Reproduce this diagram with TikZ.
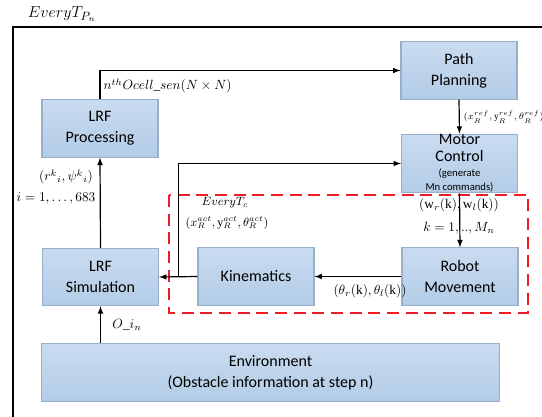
\documentclass[tikz,border=0pt]{standalone}
\usepackage{amsmath,amssymb}
\usepackage{fontspec}
\setmainfont{Liberation Serif}
\newfontfamily\boxfont{Carlito}
\usepackage{tikz}
\usetikzlibrary{arrows}
\usetikzlibrary{calc}
\definecolor{boxtop}{HTML}{C9DBF0}
\definecolor{boxbot}{HTML}{B3CCE6}
\definecolor{boxline}{HTML}{95AFCC}
\definecolor{loopred}{HTML}{EE1C24}

\begin{document}
\begin{tikzpicture}[x=0.75pt,y=-0.75pt,
  block/.style={draw=boxline,line width=0.8pt,top color=boxtop,bottom color=boxbot,
     minimum width=87pt,minimum height=43pt,align=center,
     font=\boxfont\fontsize{12}{15.5}\selectfont,inner sep=1pt},
  lbl/.style={font=\fontsize{10}{12}\selectfont,inner sep=1pt},
  link/.style={black,line width=0.9pt,-latex}]
\useasboundingbox (0,0) rectangle (542,417);
%%\draw[step=10,color=gray!50,dotted] (0,0) grid (542,417);
\draw [black,line width=2.2pt] (13,420) -- (13,27) -- (545,27);
\node [lbl,font=\fontsize{13}{15}\selectfont] (tp) at (62,14) {$EveryT_{P_n}$};

% blocks
\node [block] (pathplan) at (459,70.5) {Path\\Planning};
\node [block] (lrfproc) at (100,128.5) {LRF\\Processing};
\node [block,minimum height=44pt,inner sep=0pt,font=\boxfont\fontsize{12}{12}\selectfont] (motorctrl) at (459.5,163.5)
   {Motor\\[0.5pt]Control\\[-1pt]{\fontsize{8}{9}\selectfont (generate}\\[-1pt]{\fontsize{8}{9}\selectfont Mn commands)}};
\node [block] (lrfsim) at (100.5,277) {LRF\\Simulation};
\node [block] (kinematics) at (256,276.5) {Kinematics};
\node [block] (robotmov) at (460,276.5) {Robot\\Movement};
\node [block,minimum width=343pt,minimum height=44pt] (env) at (270.5,372.5)
   {Environment\\(Obstacle information at step n)};

% control loop
\draw [loopred,line width=1.6pt,dash pattern=on 9pt off 5pt] (169,195) rectangle (528,313);

% connectors
\draw [link] (lrfproc.north) |- (pathplan.west);
\draw [link] (pathplan.south) -- (motorctrl.north);
\draw [link] (motorctrl.south) -- (robotmov.north);
\draw [link] (robotmov.west) -- (kinematics.east);
\draw [link] (kinematics.west) -- (lrfsim.east);
\coordinate (tap) at ($(kinematics.west)!0.5!(lrfsim.east)$);
\draw [link] (tap) |- (motorctrl.west);
\draw [link] (lrfsim.north) -- (lrfproc.south);
\draw [link] (env.north -| lrfsim.south) -- (lrfsim.south);

% labels
\node [lbl,anchor=west] (ocell) at (102,86) {$n^{th}Ocell\_sen(N\times N)$};
\node [lbl,anchor=west,font=\fontsize{7}{8}\selectfont] (xref) at (462,117) {$(x_R^{ref},\mathrm{y}_R^{ref},\theta_R^{ref})$};
\node [lbl] (wk) at (459,205) {$(\mathrm{w}_r(\mathrm{k}), \mathrm{w}_l(\mathrm{k}))$};
\node [lbl] (kk) at (459,228) {$k=1,..,M_n$};
\node [lbl] (thk) at (370,291) {$(\theta_r(\mathrm{k}),\theta_l(\mathrm{k}))$};
\node [lbl,font=\fontsize{9}{11}\selectfont] (tc) at (225,203) {$EveryT_c$};
\node [lbl,font=\fontsize{9}{11}\selectfont] (xact) at (227,223) {$(x_R^{act},\mathrm{y}_R^{act},\theta_R^{act})$};
\node [lbl] (rpsi) at (66,177) {$(r^k{}_i, \psi^k{}_i)$};
\node [lbl] (ii) at (56,198) {$i=1,\ldots,683$};
\node [lbl] (oin) at (127,325) {$O\_i_n$};
\end{tikzpicture}
\end{document}
